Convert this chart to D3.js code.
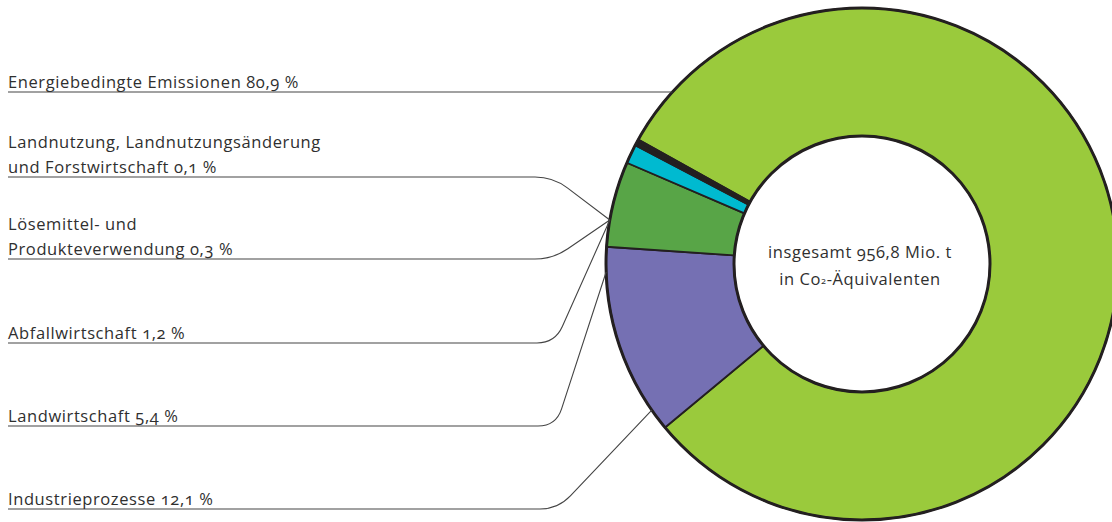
<!DOCTYPE html>
<html>
<head>
<meta charset="utf-8">
<script src="https://cdn.jsdelivr.net/npm/d3@7"></script>
<style>
  body { margin: 0; background: #fff; }
  text { font-family: "Open Sans", "DejaVu Sans", sans-serif; fill: #2f2f2f; font-variant-numeric: oldstyle-nums; letter-spacing: 0.6px; }
</style>
</head>
<body>
<div id="content"></div>
<script>
// data (order = drawing order of the slices, clockwise)
const categories = [
    "Energiebedingte Emissionen",
    "Industrieprozesse",
    "Landwirtschaft",
    "Abfallwirtschaft",
    "Lösemittel- und Produkteverwendung",
    "Landnutzung, Landnutzungsänderung und Forstwirtschaft"
];
const shares = [80.9, 12.1, 5.4, 1.2, 0.3, 0.1];
const sliceColors = ["#9aca3c", "#7570b3", "#58a547", "#00bad0", "#231f20", "#231f20"];
// label text split into lines (the value is added to the last line)
const labelLines = [
    ["Energiebedingte Emissionen"],
    ["Industrieprozesse"],
    ["Landwirtschaft"],
    ["Abfallwirtschaft"],
    ["Lösemittel- und", "Produkteverwendung"],
    ["Landnutzung, Landnutzungsänderung", "und Forstwirtschaft"]
];
const totalLines = ["insgesamt 956,8 Mio. t", "in Co", "2", "-Äquivalenten"];

const W = 1112, H = 522;
const cx = 862, cy = 264;
const R = 256, r0 = 128;

// label placement: underline y, and where the leader touches the ring (degrees, clockwise from 12 o'clock)
const labelLayout = [
    {under: 92,  anchor: null},
    {under: 509, anchor: 235.2, knee: 558},
    {under: 426, anchor: 268.2, knee: 556},
    {under: 343, anchor: 279.9, knee: 555},
    {under: 259, anchor: 279.9, knee: 553},
    {under: 177, anchor: 279.9, knee: 553}
];

const deDE = d3.formatLocale({decimal: ",", thousands: ".", grouping: [3], currency: ["", " €"]});
const fmt = deDE.format(".1f");

const start = -60.94 * Math.PI / 180;
const pie = d3.pie().sort(null).value(d => d).startAngle(start).endAngle(start + 2 * Math.PI);
const arcs = pie(shares);
const arc = d3.arc().innerRadius(r0).outerRadius(R);

const svg = d3.select("#content").append("svg")
    .attr("width", W).attr("height", H);

const center = svg.append("g").attr("transform", "translate(" + [cx, cy] + ")");

center.selectAll(".slice")
    .data(arcs)
    .enter()
        .append("path")
        .attr("class", "slice")
        .attr("d", arc)
        .attr("fill", (d, i) => sliceColors[i])
        .attr("stroke", "#231f20")
        .attr("stroke-width", 1.8)
        .attr("stroke-linejoin", "round");

// ring borders
center.append("circle").attr("r", R).attr("fill", "none").attr("stroke", "#231f20").attr("stroke-width", 3);
center.append("circle").attr("r", r0).attr("fill", "none").attr("stroke", "#231f20").attr("stroke-width", 3);

// leader lines
function leader(i) {
    const L = labelLayout[i];
    const y = L.under;
    if (L.anchor === null) {
        const xe = cx - Math.sqrt(R * R - (cy - y) * (cy - y));
        return "M8," + y + "H" + xe;
    }
    const a = L.anchor * Math.PI / 180;
    const ex = cx + R * Math.sin(a), ey = cy - R * Math.cos(a);
    const dx = ex - L.knee, dy = ey - y, len = Math.hypot(dx, dy);
    const rr = 18;
    return "M8," + y + "H" + (L.knee - rr) +
        "Q" + L.knee + "," + y + " " + (L.knee + dx / len * rr) + "," + (y + dy / len * rr) +
        "L" + ex + "," + ey;
}

svg.selectAll(".leader")
    .data(categories)
    .enter()
        .append("path")
        .attr("class", "leader")
        .attr("d", (d, i) => leader(i))
        .attr("fill", "none")
        .attr("stroke", "#444")
        .attr("stroke-width", 1.1);

// labels
const labels = svg.selectAll(".label")
    .data(categories)
    .enter()
        .append("text")
        .attr("class", "label")
        .attr("font-size", 16.5)
        .attr("x", 8);

labels.each(function(d, i) {
    const lines = labelLines[i].slice();
    lines[lines.length - 1] += " " + fmt(shares[i]) + " %";
    const base = labelLayout[i].under - 4;
    const t = d3.select(this);
    lines.forEach((s, k) => {
        t.append("tspan")
            .attr("x", 8)
            .attr("y", base - (lines.length - 1 - k) * 25)
            .text(s);
    });
});

// text in the middle
const mid = svg.append("text")
    .attr("font-size", 16.5)
    .attr("text-anchor", "middle");
mid.append("tspan").attr("x", 860).attr("y", 258).text(totalLines[0]);
mid.append("tspan").attr("x", 860).attr("y", 285).text(totalLines[1])
    .append("tspan").attr("font-size", 9).attr("dy", -1).text(totalLines[2])
    .append("tspan").attr("font-size", 16.5).attr("dy", 1).text(totalLines[3]);
</script>
</body>
</html>
